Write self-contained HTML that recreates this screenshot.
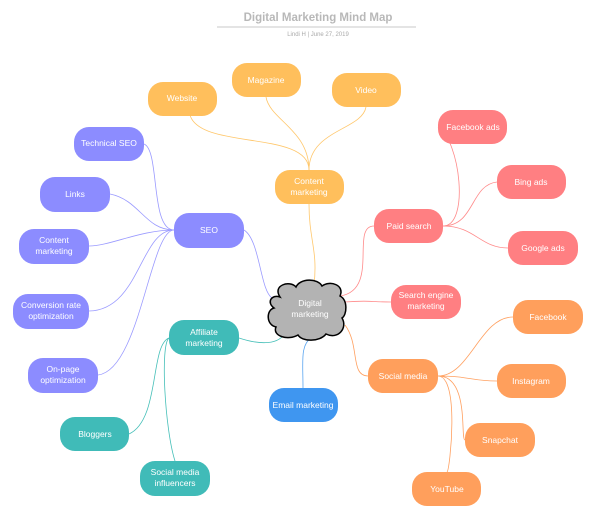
<!DOCTYPE html>
<html><head><meta charset="utf-8"><style>
body{margin:0;background:#fff;}
svg{display:block;font-family:"Liberation Sans",sans-serif;}
</style></head><body>
<svg width="604" height="517" viewBox="0 0 604 517">
<text x="318" y="21" text-anchor="middle" font-size="11.5" font-weight="bold" fill="#b8b8b8">Digital Marketing Mind Map</text>
<line x1="217" y1="27" x2="416" y2="27" stroke="#c8c8c8" stroke-width="1"/>
<text x="318" y="36" text-anchor="middle" font-size="6" fill="#aaa">Lindi H  |  June 27, 2019</text>

<g fill="none" stroke-width="0.8">
<!-- content -->
<g stroke="#FFC76B">
<path d="M309 170 C309 130 200 150 190 115"/>
<path d="M309 170 C309 130 270 120 266 97"/>
<path d="M309 170 C309 130 362 130 366 107"/>
<path d="M309 204 C309 240 318 250 314 285"/>
</g>
<!-- paid -->
<g stroke="#FF8A8A">
<path d="M443 226 C470 226 460 140 438 127"/>
<path d="M443 226 C475 226 470 185 497 182"/>
<path d="M443 226 C475 226 480 248 508 248"/>
<path d="M340 296 C380 290 350 226 374 226"/>
<path d="M345 302 C370 300 370 302 391 302"/>
</g>
<!-- social -->
<g stroke="#FFA060">
<path d="M438 376 C470 376 480 317 513 317"/>
<path d="M438 376 C470 376 470 381 497 381"/>
<path d="M438 376 C470 376 460 440 465 440"/>
<path d="M438 376 C460 376 450 470 447 472"/>
<path d="M345 325 C360 345 350 376 368 376"/>
</g>
<!-- email -->
<path stroke="#5AA5F0" d="M303 388 C303 360 300 345 312 337"/>
<!-- affiliate -->
<g stroke="#45BFB8">
<path d="M239 338 C260 345 280 345 285 332"/>
<path d="M169 338 C150 345 160 420 129 434"/>
<path d="M169 338 C160 345 165 430 175 461"/>
</g>
<!-- seo -->
<g stroke="#9A9AFF">
<path d="M244 230 C260 240 260 290 272 298"/>
<path d="M174 230 C150 230 160 150 144 144"/>
<path d="M174 230 C145 230 140 200 110 194"/>
<path d="M174 230 C140 230 110 246 89 246"/>
<path d="M174 230 C140 230 140 310 89 311"/>
<path d="M174 230 C150 230 140 370 98 375"/>
</g>
</g>

<g font-size="8.5" fill="#fff" text-anchor="middle">
<!-- orange-yellow -->
<g fill="#FFBF5C">
<rect x="148" y="82" width="69" height="34" rx="15"/>
<rect x="232" y="63" width="69" height="34" rx="15"/>
<rect x="332" y="73" width="69" height="34" rx="15"/>
<rect x="275" y="170" width="69" height="34" rx="15"/>
</g>
<text x="182" y="101">Website</text>
<text x="266" y="83">Magazine</text>
<text x="366" y="93">Video</text>
<text x="309" y="184">Content</text><text x="309" y="195">marketing</text>

<g fill="#FF7F82">
<rect x="438" y="110" width="69" height="34" rx="15"/>
<rect x="497" y="165" width="69" height="34" rx="15"/>
<rect x="374" y="209" width="69" height="34" rx="15"/>
<rect x="508" y="231" width="70" height="34" rx="15"/>
<rect x="391" y="285" width="70" height="34" rx="15"/>
</g>
<text x="473" y="130">Facebook ads</text>
<text x="531" y="185">Bing ads</text>
<text x="409" y="229">Paid search</text>
<text x="543" y="251">Google ads</text>
<text x="426" y="298">Search engine</text><text x="426" y="309">marketing</text>

<g fill="#FF9F5C">
<rect x="513" y="300" width="70" height="34" rx="15"/>
<rect x="368" y="359" width="70" height="34" rx="15"/>
<rect x="497" y="364" width="69" height="34" rx="15"/>
<rect x="465" y="423" width="70" height="34" rx="15"/>
<rect x="412" y="472" width="69" height="34" rx="15"/>
</g>
<text x="548" y="320">Facebook</text>
<text x="403" y="379">Social media</text>
<text x="531" y="384">Instagram</text>
<text x="500" y="443">Snapchat</text>
<text x="447" y="492">YouTube</text>

<rect x="269" y="388" width="69" height="34" rx="15" fill="#3F96F0"/>
<text x="303" y="408">Email marketing</text>

<g fill="#40BBB8">
<rect x="169" y="320" width="70" height="35" rx="15"/>
<rect x="60" y="417" width="69" height="34" rx="15"/>
<rect x="140" y="461" width="70" height="35" rx="15"/>
</g>
<text x="204" y="335">Affiliate</text><text x="204" y="346">marketing</text>
<text x="95" y="437">Bloggers</text>
<text x="175" y="475">Social media</text><text x="175" y="486">influencers</text>

<g fill="#8C8CFF">
<rect x="174" y="213" width="70" height="35" rx="15"/>
<rect x="74" y="127" width="70" height="34" rx="15"/>
<rect x="40" y="177" width="70" height="35" rx="15"/>
<rect x="19" y="229" width="70" height="35" rx="15"/>
<rect x="13" y="294" width="76" height="35" rx="15"/>
<rect x="28" y="358" width="70" height="35" rx="15"/>
</g>
<text x="209" y="233">SEO</text>
<text x="109" y="146">Technical SEO</text>
<text x="75" y="197">Links</text>
<text x="54" y="243">Content</text><text x="54" y="254">marketing</text>
<text x="51" y="308">Conversion rate</text><text x="51" y="319">optimization</text>
<text x="63" y="372">On-page</text><text x="63" y="383">optimization</text>
</g>

<!-- cloud -->
<path d="M280 297 C272 285 290 280 296 287 C300 278 318 278 322 286 C330 280 345 285 340 296 C348 300 347 315 342 318 C348 328 338 340 326 334 C320 342 302 342 298 335 C288 341 272 336 276 327 C266 325 266 310 274 308 C266 302 272 294 280 297 Z" fill="#B3B3B3" stroke="#000" stroke-width="1.5"/>
<text x="310" y="306" text-anchor="middle" font-size="8.5" fill="#fff">Digital</text>
<text x="310" y="317" text-anchor="middle" font-size="8.5" fill="#fff">marketing</text>
</svg>
</body></html>
